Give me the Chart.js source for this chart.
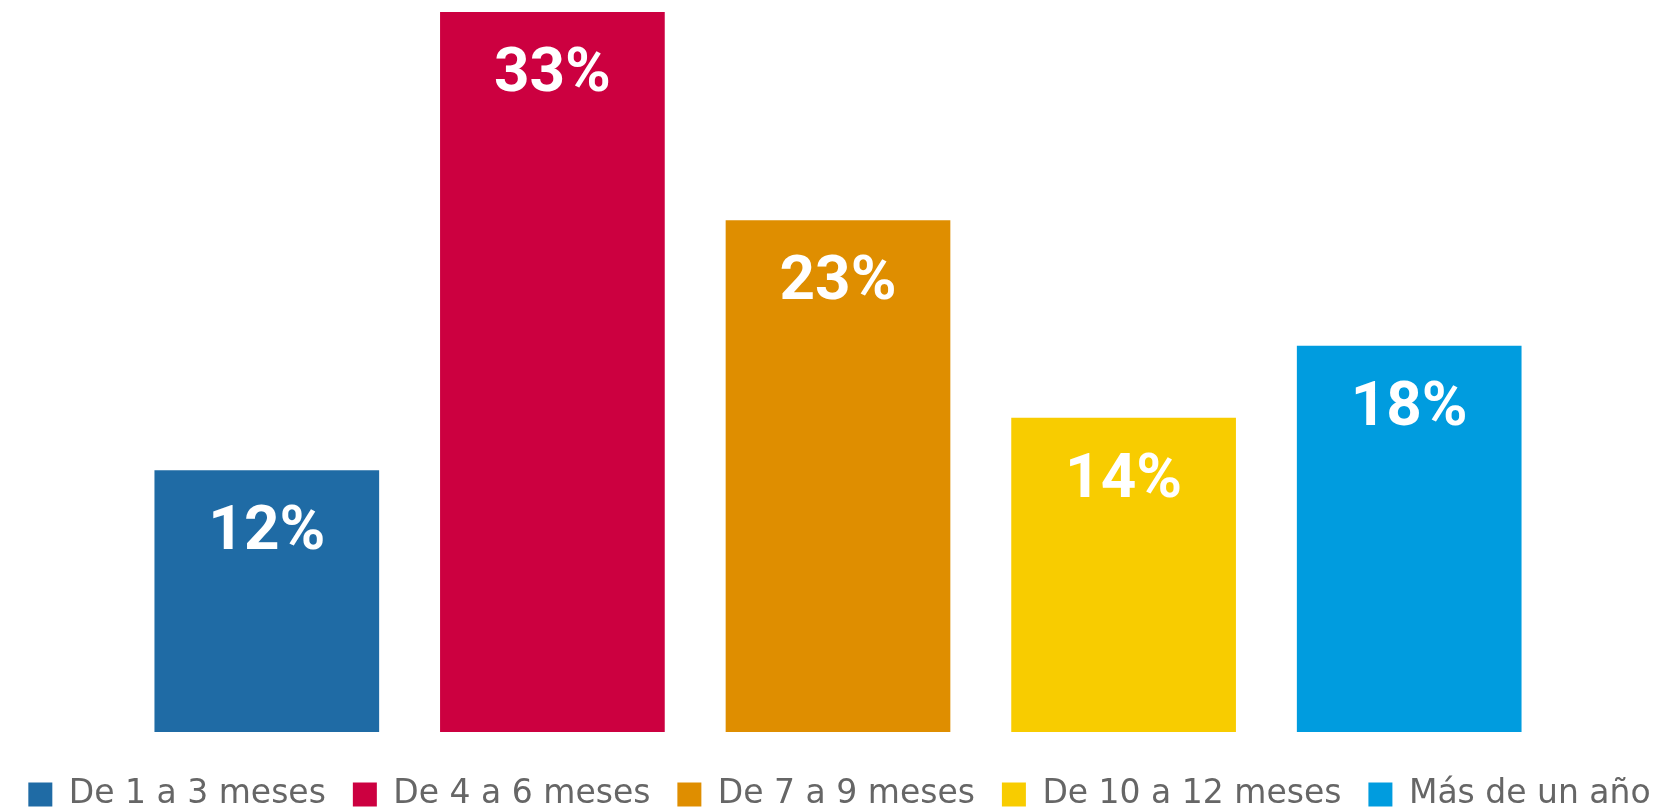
<!DOCTYPE html>
<html lang="es">
<head>
<meta charset="utf-8">
<title>Tiempo</title>
<script src="https://cdn.jsdelivr.net/npm/chart.js@4"></script>
<style>
  html, body { margin: 0; padding: 0; background: #fff; overflow: hidden; }
  #contenedor { width: 1679px; height: 812px; position: relative; }
</style>
</head>
<body>
<div id="contenedor"><canvas id="barChart"></canvas></div>
<script>
var categorias = ['De 1 a 3 meses', 'De 4 a 6 meses', 'De 7 a 9 meses', 'De 10 a 12 meses', 'Más de un año'];
var porcentajes = [12, 33, 23.45, 14.4, 17.7];
var colores = ['#1F6BA5', '#CC0040', '#DF8E00', '#F8CC00', '#009CDF'];

// Etiquetas blancas dentro de cada barra
var etiquetasPlugin = {
    id: 'etiquetas',
    afterDatasetsDraw: function(chart) {
        var ctx = chart.ctx;
        var meta = chart.getDatasetMeta(0);
        ctx.save();
        ctx.fillStyle = '#ffffff';
        ctx.font = 'bold 62px Roboto';
        ctx.textAlign = 'center';
        ctx.textBaseline = 'alphabetic';
        meta.data.forEach(function(bar, i) {
            ctx.fillText(Math.round(porcentajes[i]) + '%', bar.x, bar.y + 79);
        });
        ctx.restore();
    }
};

function ejeOculto(ancho, posicion) {
    return {
        type: 'linear',
        position: posicion,
        min: 0,
        max: 33,
        display: true,
        ticks: { display: false },
        grid: { display: false },
        border: { display: false },
        afterFit: function(s) { s.width = ancho; }
    };
}

new Chart(document.getElementById('barChart'), {
    type: 'bar',
    data: {
        labels: categorias,
        datasets: [{
            data: porcentajes,
            backgroundColor: colores,
            borderWidth: 0,
            barPercentage: 225 / 286,
            categoryPercentage: 1
        }]
    },
    options: {
        responsive: true,
        maintainAspectRatio: false,
        animation: false,
        layout: { padding: { top: 12, bottom: -9, left: 0, right: 0 } },
        scales: {
            x: { display: false },
            y: ejeOculto(124, 'left'),
            yDer: ejeOculto(127, 'right')
        },
        plugins: {
            tooltip: { enabled: false },
            legend: {
                position: 'bottom',
                title: { display: true, text: '', font: { size: 19, lineHeight: 1 }, padding: 0 },
                labels: {
                    boxWidth: 24,
                    boxHeight: 24,
                    padding: 27,
                    color: '#3a3a3a',
                    font: { family: 'DejaVu Sans', size: 33, lineHeight: 1 },
                    generateLabels: function(chart) {
                        return categorias.map(function(c, i) {
                            return { text: c, fillStyle: colores[i], strokeStyle: colores[i], lineWidth: 0, hidden: false, index: i };
                        });
                    }
                }
            }
        }
    },
    plugins: [etiquetasPlugin]
});
</script>
</body>
</html>
